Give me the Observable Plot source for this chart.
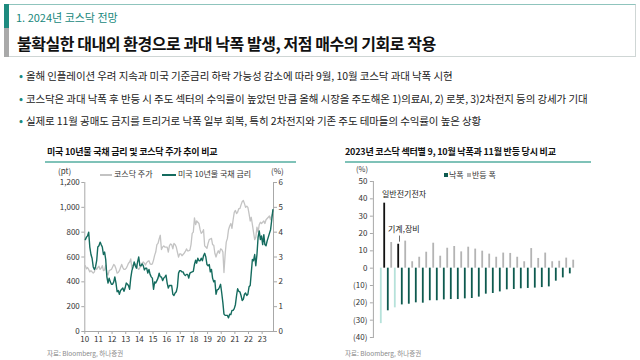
<!DOCTYPE html>
<html><head><meta charset="utf-8">
<script src="https://cdn.jsdelivr.net/npm/d3@7"></script>
<script src="https://cdn.jsdelivr.net/npm/@observablehq/plot@0.6"></script>
<style>
body{margin:0;width:640px;height:360px;background:#fff;font-family:"Noto Sans CJK KR","Noto Sans",sans-serif;position:relative;overflow:hidden;color:#222}
.abs{position:absolute;white-space:nowrap}
.hdr{position:absolute;left:4px;top:4px;width:632px;height:53px;border:1px solid #cfd6d5;border-top-color:#8fc4bd;box-sizing:border-box}
.acc1{position:absolute;left:4px;top:4px;width:5px;height:24px;background:#1d8a7e}
.acc2{position:absolute;left:4px;top:28px;width:5px;height:29px;background:#a9a9a9}
.sub{left:16px;top:9px;font-size:11px;color:#17877b;line-height:16px}
.ttl{left:17px;top:32px;font-size:16px;font-weight:700;color:#111;line-height:22px;letter-spacing:-0.45px}
.bl{left:19px;font-size:10.5px;line-height:14px;color:#222;letter-spacing:-0.1px}
.bl b{color:#1d8a7e;font-weight:700;margin-right:3px}
.ct{font-size:9px;font-weight:700;color:#111;line-height:12px;letter-spacing:-0.2px}
.ul{position:absolute;height:1.5px;background:#7fc2b8}
.src{font-size:6.5px;color:#8a8a8a;line-height:9px}
.lg{font-size:8px;color:#333;line-height:10px}
svg{position:absolute}
</style></head><body>
<div class="hdr"></div><div class="acc1"></div><div class="acc2"></div>
<div class="abs sub">1. 2024년 코스닥 전망</div>
<div class="abs ttl">불확실한 대내외 환경으로 과대 낙폭 발생, 저점 매수의 기회로 작용</div>
<div class="abs bl" style="top:69px"><b>•</b>올해 인플레이션 우려 지속과 미국 기준금리 하락 가능성 감소에 따라 9월, 10월 코스닥 과대 낙폭 시현</div>
<div class="abs bl" style="top:92px"><b>•</b>코스닥은 과대 낙폭 후 반등 시 주도 섹터의 수익률이 높았던 만큼 올해 시장을 주도해온 1)의료AI, 2) 로봇, 3)2차전지 등의 강세가 기대</div>
<div class="abs bl" style="top:114px"><b>•</b>실제로 11월 공매도 금지를 트리거로 낙폭 일부 회복, 특히 2차전지와 기존 주도 테마들의 수익률이 높은 상황</div>

<div class="abs ct" style="left:47px;top:146px">미국 10년물 국채 금리 및 코스닥 주가 추이 비교</div>
<div class="ul" style="left:45px;top:161px;width:251px"></div>
<div class="abs ct" style="left:345px;top:146px">2023년 코스닥 섹터별 9, 10월 낙폭과 11월 반등 당시 비교</div>
<div class="ul" style="left:345px;top:161px;width:246px"></div>

<div class="abs lg" style="left:58px;top:166px">(pt)</div>
<div class="abs lg" style="left:271px;top:166px">(%)</div>
<div class="abs" style="left:100px;top:174px;width:12px;height:1.5px;background:#c3c3c3"></div>
<div class="abs lg" style="left:114px;top:169px">코스닥 주가</div>
<div class="abs" style="left:162px;top:174px;width:14px;height:1.5px;background:#146b5e"></div>
<div class="abs lg" style="left:178px;top:169px">미국 10년물 국채 금리</div>

<div class="abs lg" style="left:356px;top:164px;font-size:7.5px">(%)</div>
<div class="abs" style="left:444px;top:173px;width:4px;height:4px;background:#0e5a4f"></div>
<div class="abs lg" style="left:449px;top:170px">낙폭</div>
<div class="abs" style="left:467px;top:173px;width:4px;height:4px;background:#b4b4b4"></div>
<div class="abs lg" style="left:472px;top:170px">반등 폭</div>

<div class="abs src" style="left:47px;top:349px">자료: Bloomberg, 하나증권</div>
<div class="abs src" style="left:345px;top:349px">자료: Bloomberg, 하나증권</div>

<div id="left"></div><div id="right"></div>
<script>
// ---------- Left chart data (monthly, 2010-01 .. 2023-10) ----------
const firstYear = 2010;
const kosdaq = [
  530,505,515,500,480,490,480,470,480,520,500,515,   // 2010
  525,500,510,530,490,495,535,470,455,490,495,500,   // 2011
  520,540,530,505,470,475,490,515,540,515,500,500,   // 2012
  510,530,550,560,585,510,535,530,545,535,510,500,   // 2013
  515,525,550,560,550,535,555,565,570,545,540,545,   // 2014
  575,615,640,700,710,745,775,660,680,690,680,680,   // 2015
  680,640,690,705,700,665,710,700,680,640,600,625,   // 2016
  625,610,620,630,645,665,650,650,655,700,790,800,   // 2017
  915,860,890,880,870,820,790,800,820,690,680,670,   // 2018
  710,740,745,750,700,695,630,600,630,650,630,665,   // 2019
  660,640,475,620,720,750,820,850,870,830,900,960,   // 2020
  975,950,960,990,990,1020,1045,1055,1030,1000,1010,1000, // 2021
  950,890,920,860,800,740,760,840,800,860,880,870,   // 2022
  880,890,870,900,910,920,930,900,935,955            // 2023
];
const us10y = [
  3.7,3.8,3.85,4.0,3.4,3.1,2.95,2.6,2.5,2.6,2.85,3.4,   // 2010
  3.45,3.6,3.5,3.4,3.1,3.2,2.9,2.2,1.95,2.15,2.0,1.9,   // 2011
  1.9,2.0,2.2,1.95,1.6,1.65,1.5,1.65,1.7,1.75,1.62,1.75,// 2012
  1.95,1.9,1.85,1.7,2.15,2.45,2.6,2.8,2.65,2.55,2.8,3.0,// 2013
  2.65,2.65,2.72,2.65,2.48,2.55,2.55,2.35,2.5,2.3,2.2,2.15, // 2014
  1.7,2.0,1.95,2.05,2.15,2.35,2.2,2.2,2.05,2.15,2.2,2.27,// 2015
  1.95,1.75,1.85,1.85,1.85,1.5,1.45,1.55,1.6,1.8,2.35,2.45, // 2016
  2.45,2.4,2.4,2.3,2.25,2.3,2.3,2.15,2.35,2.38,2.4,2.42,// 2017
  2.7,2.87,2.75,2.95,2.85,2.85,2.95,2.85,3.05,3.15,3.0,2.7, // 2018
  2.65,2.7,2.4,2.5,2.15,2.0,2.05,1.5,1.68,1.7,1.78,1.9, // 2019
  1.55,1.15,0.7,0.65,0.65,0.65,0.55,0.7,0.68,0.85,0.85,0.92, // 2020
  1.08,1.45,1.72,1.62,1.6,1.45,1.25,1.3,1.5,1.55,1.45,1.5,  // 2021
  1.8,1.85,2.35,2.9,2.85,3.1,2.65,3.1,3.8,4.05,3.7,3.85,    // 2022
  3.5,3.9,3.5,3.45,3.65,3.8,3.95,4.1,4.5,4.9                // 2023
];
const leftTicks = [0,200,400,600,800,1000,1200];
const rateToPt = 1200 / 6;
const yearTicks = ["2010","2011","2012","2013","2014","2015","2016","2017","2018","2019","2020","2021","2022","2023"];

// ---------- Right chart data ----------
const sectorLabels = ["일반전기전자","","기계,장비","","","","","","","","","","","","","","","","","","","","","","","","",""];
const drop = [-32,-24.6,-22.9,-21.2,-20.8,-20,-20.2,-18.8,-18.8,-18.3,-18.1,-18.1,-17.7,-17.5,-16.7,-15,-14.6,-13.7,-12.5,-12.3,-11.9,-11.7,-11.5,-11.2,-10.8,-7.5,-5.6,-3.3];
const rebound = [37.5,14.8,13.8,15.6,3.7,6.3,9.2,14.4,6.9,11.5,12.5,9.4,12.1,11,9.8,8.1,6.3,8.7,8.5,6.3,3.7,11.3,5.6,8.7,3.7,4,5.8,4.6];
const highlighted = [true,false,true,false,false,false,false,false,false,false,false,false,false,false,false,false,false,false,false,false,false,false,false,false,false,false,false,false];
const rightTicks = [-40,-30,-20,-10,0,10,20,30,40,50];

// ---------- Left chart ----------
const series = kosdaq.map((v,i)=>({date:new Date(Date.UTC(firstYear, i, 15)), kosdaq:v, rate:us10y[i]}));
const axisColor = "#a8a8a8";
const left = Plot.plot({
  width:260, height:180,
  marginLeft:44.3, marginRight:27, marginTop:17, marginBottom:14,
  style:{fontFamily:"'Noto Sans CJK KR', sans-serif", fontSize:"8px", color:"#333", background:"transparent", overflow:"visible"},
  x:{type:"utc", domain:[new Date(Date.UTC(2010,0,1)), new Date(Date.UTC(2023,10,1))]},
  y:{domain:[0,1200]},
  marks:[
    Plot.frame({anchor:"left", stroke:axisColor}),
    Plot.frame({anchor:"right", stroke:axisColor}),
    Plot.frame({anchor:"bottom", stroke:axisColor}),
    Plot.axisY({anchor:"left", ticks:leftTicks, tickFormat:d3.format(","), tickSize:3, tickPadding:2, label:null, stroke:axisColor, fill:"#333"}),
    Plot.axisY({anchor:"right", ticks:leftTicks, tickFormat:d=>d/rateToPt, tickSize:3, tickPadding:2, label:null, stroke:axisColor, fill:"#333"}),
    Plot.axisX({ticks:yearTicks.map(y=>new Date(y+"-01-01T00:00:00Z")), tickFormat:d3.utcFormat("%y"), tickSize:3, tickPadding:1.5, label:null, stroke:axisColor, fill:"#333"}),
    Plot.lineY(series, {x:"date", y:"kosdaq", stroke:"#c3c3c3", strokeWidth:1.3}),
    Plot.lineY(series, {x:"date", y:d=>d.rate*rateToPt, stroke:"#146b5e", strokeWidth:1.4})
  ]
});
left.style.left="40px"; left.style.top="165px";
document.getElementById("left").appendChild(left);

// ---------- Right chart ----------
const bars = drop.map((d,i)=>({id:"s"+i, label:sectorLabels[i], drop:d, rebound:rebound[i], hl:highlighted[i]}));
const right = Plot.plot({
  width:250, height:180,
  marginLeft:32.9, marginRight:7.9, marginTop:16, marginBottom:8,
  style:{fontFamily:"'Noto Sans CJK KR', sans-serif", fontSize:"8px", color:"#333", background:"transparent", overflow:"visible"},
  x:{type:"band", domain:bars.map(d=>d.id), padding:0, axis:null},
  y:{domain:[-40,50]},
  color:{type:"identity"},
  marks:[
    Plot.frame({anchor:"left", stroke:axisColor}),
    Plot.axisY({anchor:"left", ticks:rightTicks, tickFormat:d=>d<0?`(${-d})`:`${d}`, tickSize:3, tickPadding:3, label:null, stroke:axisColor, fill:"#333"}),
    Plot.barY(bars, {x:"id", y:"drop", fill:d=>d.hl?"#b6e2da":"#0e5a4f", insetLeft:0.9, insetRight:4.3}),
    Plot.barY(bars, {x:"id", y:"rebound", fill:d=>d.hl?"#111111":"#b4b4b4", insetLeft:4.3, insetRight:0.9}),
    Plot.link(bars.filter(d=>d.label==="기계,장비"), {x1:"id", x2:"id", y1:d=>d.rebound+1.5, y2:d=>d.rebound+5, dx:2.5, stroke:"#333", strokeWidth:0.7}),
    Plot.text(bars.filter(d=>d.label==="일반전기전자"), {x:"id", y:"rebound", text:"label", textAnchor:"start", dx:-1, dy:-9, fill:"#222", fontSize:8}),
    Plot.text(bars.filter(d=>d.label==="기계,장비"), {x:"id", y:"rebound", text:"label", textAnchor:"start", dx:-9, dy:-15, fill:"#222", fontSize:8})
  ]
});
right.style.left="340px"; right.style.top="165px";
document.getElementById("right").appendChild(right);
</script>
</body></html>
